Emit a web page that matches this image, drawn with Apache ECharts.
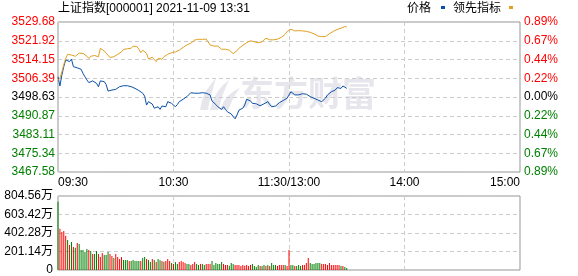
<!DOCTYPE html>
<html><head><meta charset="utf-8">
<script src="https://cdn.jsdelivr.net/npm/echarts@6/dist/echarts.min.js"></script>
<style>html,body{margin:0;padding:0;background:#fff}#c{width:578px;height:276px}</style>
</head><body><div id="c"></div>
<script>
const timeLabels = ['09:30', '10:30', '11:30/13:00', '14:00', '15:00'];
const priceLabels = ['3467.58', '3475.34', '3483.11', '3490.87', '3498.63', '3506.39', '3514.15', '3521.92', '3529.68'];
const pctLabels = ['0.89%', '0.67%', '0.44%', '0.22%', '0.00%', '0.22%', '0.44%', '0.67%', '0.89%'];
const volLabels = ['0', '201.14万', '402.28万', '603.42万', '804.56万'];
const prevClose = 3498.63;
const priceStep = 7.7625;
const volStep = 201.14;

const price = [
3507.0,3503.2,3507.7,3511.2,3514.0,3514.6,3513.3,3514.3,3511.2,3510.8,
3510.7,3510.5,3510.1,3508.4,3507.0,3505.7,3504.6,3505.0,3505.3,3505.4,
3504.3,3502.9,3505.3,3505.7,3505.0,3503.8,3501.1,3501.4,3501.5,3501.1,
3501.8,3502.5,3502.9,3503.0,3503.3,3503.4,3503.3,3503.0,3502.9,3502.6,
3502.2,3501.5,3501.3,3501.1,3500.2,3499.0,3495.3,3496.7,3496.0,3495.7,
3494.0,3493.2,3494.6,3493.5,3494.9,3494.4,3494.6,3496.7,3496.3,3496.0,
3496.7,3494.6,3495.5,3496.7,3497.3,3497.7,3498.2,3498.8,3498.3,3500.4,
3500.8,3500.2,3500.5,3500.2,3500.3,3500.4,3500.0,3500.2,3499.8,3499.5,
3497.0,3496.3,3495.5,3494.6,3494.0,3493.5,3494.6,3493.5,3492.5,3492.0,
3491.6,3490.5,3489.6,3491.2,3493.2,3493.6,3494.0,3495.3,3497.7,3498.1,
3497.0,3496.0,3495.3,3495.8,3496.3,3495.0,3494.9,3495.8,3496.0,3496.7,
3495.5,3494.6,3494.7,3494.9,3495.7,3496.3,3497.0,3497.2,3497.4,3498.1,
3498.5,3500.8,3500.0,3499.5,3499.6,3499.5,3499.5,3500.0,3500.8,3499.8,
3499.5,3498.8,3498.5,3498.1,3497.7,3497.4,3496.9,3496.7,3497.4,3498.2,
3499.5,3500.2,3500.8,3501.2,3501.5,3502.5,3502.9,3502.2,3503.2,3502.6,
3502.2];

const leading = [
3505.5,3506.4,3509.0,3512.0,3514.6,3516.3,3516.2,3516.0,3515.8,3515.5,
3516.3,3516.8,3517.4,3516.7,3516.3,3515.5,3514.6,3515.5,3515.3,3515.8,
3516.3,3515.3,3518.8,3518.2,3517.7,3516.8,3516.0,3515.0,3514.2,3515.3,
3515.8,3516.3,3516.4,3517.3,3518.3,3518.4,3518.6,3518.7,3518.8,3519.7,
3519.6,3519.5,3518.4,3517.0,3518.0,3518.5,3516.7,3514.4,3514.8,3515.1,
3514.9,3513.3,3514.6,3514.4,3514.3,3515.3,3515.8,3516.3,3517.0,3517.0,
3517.1,3517.3,3517.7,3518.0,3518.3,3519.2,3519.5,3520.2,3520.4,3520.9,
3521.5,3522.2,3522.4,3522.5,3522.6,3522.5,3522.2,3522.6,3522.9,3520.2,
3520.0,3519.7,3519.8,3519.7,3518.9,3518.4,3518.3,3518.4,3518.5,3518.0,
3517.4,3516.6,3516.0,3517.8,3518.8,3519.5,3520.0,3520.2,3521.1,3521.5,
3521.9,3521.7,3521.5,3521.2,3521.1,3521.1,3521.5,3522.2,3523.0,3523.6,
3522.3,3521.9,3522.3,3522.5,3522.6,3523.0,3523.3,3524.0,3524.6,3525.7,
3526.3,3526.7,3526.3,3526.0,3526.0,3526.1,3526.2,3526.0,3525.7,3525.8,
3525.7,3525.4,3525.0,3524.8,3524.3,3523.9,3523.7,3523.6,3523.6,3523.7,
3523.9,3524.8,3525.3,3525.8,3526.0,3526.6,3526.8,3527.1,3527.4,3527.8,
3527.6];

// volume in 万
const volume = [
743,449,413,424,373,326,272,304,250,243,294,283,217,217,196,228,217,207,174,174,
207,174,141,185,163,163,196,174,152,130,174,141,120,141,109,109,109,98,98,109,
98,98,98,98,130,141,120,109,87,
120,109,87,120,105,98,91,98,120,98,76,65,87,65,87,98,87,76,65,65,
54,65,87,65,54,65,65,54,65,65,65,98,54,76,65,65,87,65,54,54,
47,76,65,54,54,54,43,54,47,54,
43,54,65,43,33,54,43,43,54,43,54,43,76,54,54,43,54,54,54,54,
43,217,54,54,43,43,54,43,54,54,76,130,76,65,65,76,76,76,65,65,
65,54,76,54,54,54,54,54,43,43,33,22];
// 1 = up (red), 0 = down (green)
const volUp = [
0,1,1,1,1,0,1,0,1,0,1,0,0,0,0,0,1,0,1,0,
0,1,1,1,0,0,0,1,1,0,1,1,1,1,0,0,0,1,0,0,
0,0,0,1,0,0,1,0,0,
1,0,1,0,0,1,0,1,1,1,0,1,0,0,1,1,1,1,0,0,
1,1,1,0,0,1,0,0,1,1,1,0,0,0,0,0,0,1,1,1,
0,0,0,1,1,1,1,1,1,1,
1,1,0,0,0,0,1,0,0,1,0,1,0,0,0,1,1,1,1,0,
1,1,0,0,1,0,0,0,1,1,1,1,0,0,0,0,0,0,1,1,
1,1,1,1,1,1,1,1,0,1,0,0];

const RED = '#ff0000', GREEN = '#008000', BLACK = '#000000';
const FONT = '"Liberation Sans", "Noto Sans CJK SC", sans-serif';
const dash = { color: '#cccccc', type: [4, 3], width: 1 };
const WM = '#e6e6ec';

const chart = echarts.init(document.getElementById('c'), null, { renderer: 'canvas' });
chart.setOption({
  animation: false,
  backgroundColor: '#ffffff',
  textStyle: { fontFamily: FONT },
  grid: [
    { left: 58, right: 58, top: 22, height: 150, show: true, borderColor: '#959595', borderWidth: 1, backgroundColor: 'transparent' },
    { left: 58, right: 58, top: 196, height: 74, show: true, borderColor: '#959595', borderWidth: 1, backgroundColor: 'transparent' }
  ],
  xAxis: [
    { type: 'value', gridIndex: 0, min: 0, max: 240, interval: 60,
      axisLine: { show: false }, axisTick: { show: false },
      splitLine: { show: true, lineStyle: dash },
      axisLabel: { show: true, margin: 5, color: BLACK, fontSize: 12, fontFamily: FONT,
        alignMinLabel: 'left', alignMaxLabel: 'right',
        formatter: v => timeLabels[Math.round(v / 60)] } },
    { type: 'value', gridIndex: 1, min: 0, max: 240, interval: 60,
      axisLine: { show: false }, axisTick: { show: false },
      splitLine: { show: true, lineStyle: dash },
      axisLabel: { show: false } }
  ],
  yAxis: [
    { type: 'value', gridIndex: 0, min: -4, max: 4, interval: 1, position: 'left',
      axisLine: { show: false }, axisTick: { show: false },
      splitLine: { show: true, lineStyle: dash },
      axisLabel: { margin: 3, fontSize: 12, fontFamily: FONT,
        formatter: v => priceLabels[Math.round(v) + 4],
        color: v => (v > 0 ? RED : (v < 0 ? GREEN : BLACK)) } },
    { type: 'value', gridIndex: 0, min: -4, max: 4, interval: 1, position: 'right',
      axisLine: { show: false }, axisTick: { show: false },
      splitLine: { show: false },
      axisLabel: { margin: 4, fontSize: 12, fontFamily: FONT,
        formatter: v => pctLabels[Math.round(v) + 4],
        color: v => (v > 0 ? RED : (v < 0 ? GREEN : BLACK)) } },
    { type: 'value', gridIndex: 1, min: 0, max: 4, interval: 1, position: 'left',
      axisLine: { show: false }, axisTick: { show: false },
      splitLine: { show: true, lineStyle: dash },
      axisLabel: { margin: 5, fontSize: 12, fontFamily: FONT, color: BLACK,
        formatter: v => volLabels[Math.round(v)] } }
  ],
  graphic: [
    { type: 'text', left: 58, top: 3, z: 10, style: { text: '上证指数[000001] 2021-11-09 13:31', font: '12px ' + FONT, fill: '#000' } },
    { type: 'text', left: 407, top: 3, z: 10, style: { text: '价格', font: '12px ' + FONT, fill: '#000' } },
    { type: 'rect', left: 441, top: 6, z: 10, shape: { width: 4, height: 3 }, style: { fill: '#0a50a8' } },
    { type: 'text', left: 453, top: 3, z: 10, style: { text: '领先指标', font: '12px ' + FONT, fill: '#000' } },
    { type: 'rect', left: 509, top: 6, z: 10, shape: { width: 4, height: 3 }, style: { fill: '#e0a020' } },
    { type: 'polygon', z: 0, silent: true, shape: { points: [[200,110],[202,100],[206,91],[211,84],[216,78],[213,88],[211,96],[209,104],[208,110]] }, style: { fill: WM } },
    { type: 'polygon', z: 0, silent: true, shape: { points: [[210,110],[213,100],[218,91],[223,85],[229,80],[225,89],[222,97],[220,104],[218,110]] }, style: { fill: WM } },
    { type: 'polygon', z: 0, silent: true, shape: { points: [[220,110],[224,101],[229,95],[234,91],[240,88],[235,95],[232,101],[230,106],[228,110]] }, style: { fill: WM } },
    { type: 'text', left: 240, top: 76, z: 0, silent: true, style: { text: '东方财富', font: 'bold 34px "Noto Sans CJK SC"', fill: WM } }
  ],
  series: [
    { name: '价格', type: 'line', xAxisIndex: 0, yAxisIndex: 0, showSymbol: false, z: 3,
      lineStyle: { color: '#0a50a8', width: 1 }, itemStyle: { color: '#0a50a8' },
      data: price.map((p, i) => [i, (p - prevClose) / priceStep]) },
    { name: '领先指标', type: 'line', xAxisIndex: 0, yAxisIndex: 0, showSymbol: false, z: 3,
      lineStyle: { color: '#e0a020', width: 1 }, itemStyle: { color: '#e0a020' },
      data: leading.map((p, i) => [i, (p - prevClose) / priceStep]) },
    { name: '成交量', type: 'bar', xAxisIndex: 1, yAxisIndex: 2, barWidth: 1, z: 3,
      data: volume.map((v, i) => ({ value: [i, v / volStep], itemStyle: { color: volUp[i] ? RED : GREEN } })) }
  ]
});
</script></body></html>
